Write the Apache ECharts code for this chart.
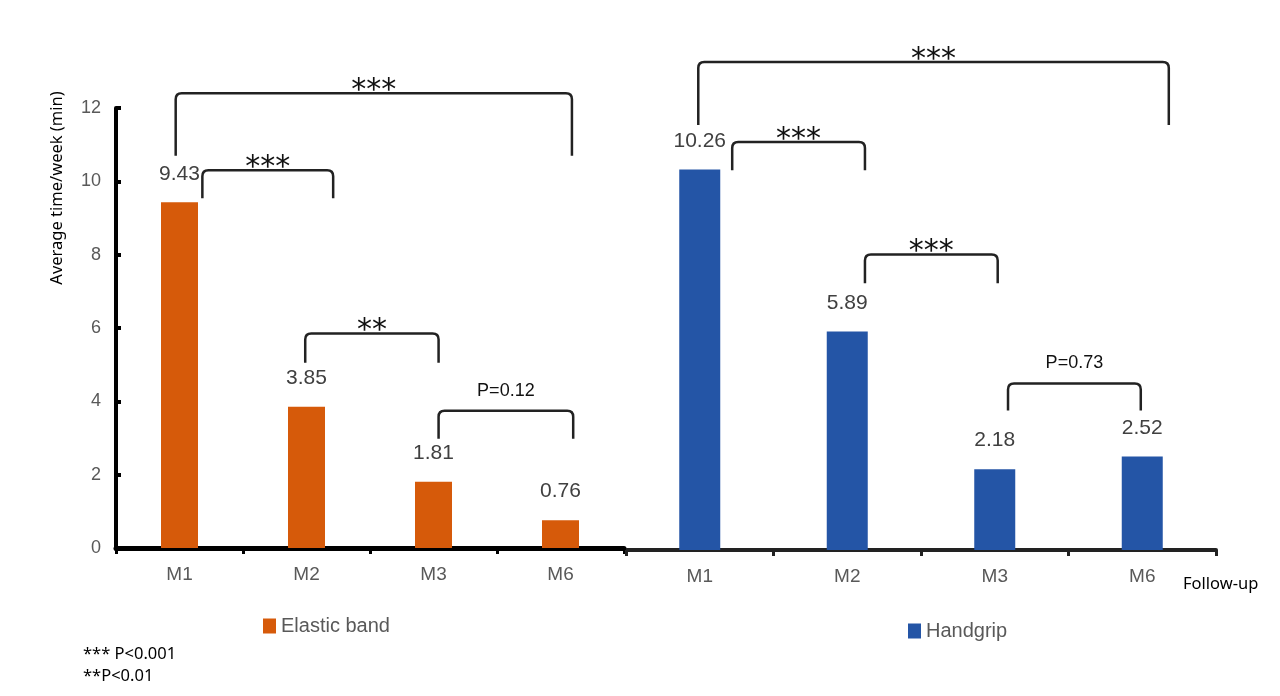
<!DOCTYPE html>
<html>
<head>
<meta charset="utf-8">
<script src="https://cdn.jsdelivr.net/npm/echarts@6/dist/echarts.min.js"></script>
<style>
html, body { margin: 0; padding: 0; background: #fff; }
#main { width: 1280px; height: 696px; }
</style>
</head>
<body>
<div id="main"></div>
<script>
const categories = ['M1', 'M2', 'M3', 'M6'];
const elasticBand = [9.43, 3.85, 1.81, 0.76];
const handgrip = [10.26, 5.89, 2.18, 2.52];
const yTicks = [0, 2, 4, 6, 8, 10, 12];

// brackets: [from (category index), to, top value, leg end value]
const elasticBrackets = [[-0.03, 3.09, 12.4, 10.7], [0.18, 1.21, 10.3, 9.54], [0.99, 2.04, 5.85, 5.05], [2.04, 3.10, 3.74, 2.98]];
const elasticLabels = ['***', '***', '**', 'P=0.12'];
const handgripBrackets = [[-0.01, 3.18, 13.16, 11.46], [0.22, 1.12, 11.0, 10.24], [1.12, 2.02, 7.97, 7.19], [2.09, 2.99, 4.49, 3.76]];
const handgripLabels = ['***', '***', '***', 'P=0.73'];

let chart = echarts.init(document.getElementById('main'));

let bracketRender = (labels) => (params, api) => {
	let x1 = api.value(0), x2 = api.value(1), top = api.value(2), bot = api.value(3);
	let a = api.coord([x1, top]);
	let b = api.coord([x2, top]);
	let c = api.coord([x1, bot]);
	let r = 6;
	let d = 'M' + a[0] + ' ' + c[1] + ' L' + a[0] + ' ' + (a[1] + r) +
		' Q' + a[0] + ' ' + a[1] + ' ' + (a[0] + r) + ' ' + a[1] +
		' L' + (b[0] - r) + ' ' + b[1] +
		' Q' + b[0] + ' ' + b[1] + ' ' + b[0] + ' ' + (b[1] + r) +
		' L' + b[0] + ' ' + c[1];
	let txt = labels[params.dataIndex];
	let stars = txt.charAt(0) === '*';
	return {
		type: 'group',
		children: [{
			type: 'path',
			shape: { pathData: d },
			style: { fill: 'none', stroke: '#222', lineWidth: 2.5 }
		}, {
			type: 'text',
			x: (a[0] + b[0]) / 2,
			y: stars ? a[1] - 2 : a[1] - 20,
			style: {
				text: txt,
				textAlign: 'center',
				textVerticalAlign: 'middle',
				fontFamily: stars ? 'DejaVu Sans' : 'Liberation Sans',
				fontSize: stars ? 30 : 18,
				fill: '#111'
			}
		}]
	};
};

let catAxis = (gridIndex, color, width) => ({
	type: 'category',
	gridIndex: gridIndex,
	data: categories,
	axisLine: { onZero: false, lineStyle: { color: color, width: width } },
	axisTick: { show: true, length: 6, lineStyle: { color: color, width: 3 } },
	axisLabel: { color: '#595959', fontSize: 19, fontFamily: 'Liberation Sans', margin: 17 }
});

let option = {
	backgroundColor: '#fff',
	animation: false,
	grid: [
		{ left: 116, width: 508, top: 108, bottom: 148 },
		{ left: 626, width: 590, top: 105, bottom: 146 }
	],
	legend: [{
		data: ['Elastic band'],
		left: 258, top: 611,
		icon: 'rect', itemWidth: 13, itemHeight: 15,
		textStyle: { color: '#595959', fontSize: 20, fontFamily: 'Liberation Sans' }
	}, {
		data: ['Handgrip'],
		left: 903, top: 616,
		icon: 'rect', itemWidth: 13, itemHeight: 15,
		textStyle: { color: '#595959', fontSize: 20, fontFamily: 'Liberation Sans' }
	}],
	xAxis: [
		catAxis(0, '#000', 5),
		catAxis(1, '#222', 4),
		{ type: 'value', gridIndex: 0, min: -0.5, max: 3.5, show: false },
		{ type: 'value', gridIndex: 1, min: -0.5, max: 3.5, show: false }
	],
	yAxis: [{
		type: 'value',
		gridIndex: 0,
		min: 0, max: yTicks[yTicks.length - 1], interval: 2,
		splitLine: { show: false },
		axisLine: { show: true, onZero: false, lineStyle: { color: '#000', width: 4 } },
		axisTick: { show: true, inside: true, length: 5, lineStyle: { color: '#000', width: 4 } },
		axisLabel: { color: '#595959', fontSize: 18, fontFamily: 'Liberation Sans', margin: 15 }
	}, {
		type: 'value',
		gridIndex: 1,
		min: 0, max: 12,
		show: false,
		splitLine: { show: false }
	}],
	series: [{
		name: 'Elastic band',
		type: 'bar',
		xAxisIndex: 0, yAxisIndex: 0,
		data: elasticBand,
		barWidth: 37,
		itemStyle: { color: '#D65A0A' },
		label: { show: true, position: 'top', distance: 18, color: '#404040', fontSize: 21, fontFamily: 'Liberation Sans' }
	}, {
		name: 'Handgrip',
		type: 'bar',
		xAxisIndex: 1, yAxisIndex: 1,
		data: handgrip,
		barWidth: 41,
		itemStyle: { color: '#2455A6' },
		label: { show: true, position: 'top', distance: 18, color: '#404040', fontSize: 21, fontFamily: 'Liberation Sans' }
	}, {
		type: 'custom',
		xAxisIndex: 2, yAxisIndex: 0,
		renderItem: bracketRender(elasticLabels),
		data: elasticBrackets,
		encode: { x: [0, 1], y: [2, 3] },
		silent: true
	}, {
		type: 'custom',
		xAxisIndex: 3, yAxisIndex: 1,
		renderItem: bracketRender(handgripLabels),
		data: handgripBrackets,
		encode: { x: [0, 1], y: [2, 3] },
		silent: true
	}],
	graphic: [{
		type: 'text',
		x: 57, y: 188,
		rotation: Math.PI / 2,
		style: { text: 'Average time/week (min)', textAlign: 'center', textVerticalAlign: 'middle', fontSize: 16.5, fontFamily: 'Noto Sans', fill: '#000' }
	}, {
		type: 'text',
		left: 1183, top: 576,
		style: { text: 'Follow-up', fontSize: 16.5, fontFamily: 'Noto Sans', fill: '#000' }
	}, {
		type: 'text',
		left: 83, top: 646,
		style: { text: '*** P<0.001', fontSize: 16.5, fontFamily: 'Noto Sans', fill: '#000' }
	}, {
		type: 'text',
		left: 83, top: 668,
		style: { text: '**P<0.01', fontSize: 16.5, fontFamily: 'Noto Sans', fill: '#000' }
	}]
};

chart.setOption(option);
</script>
</body>
</html>
